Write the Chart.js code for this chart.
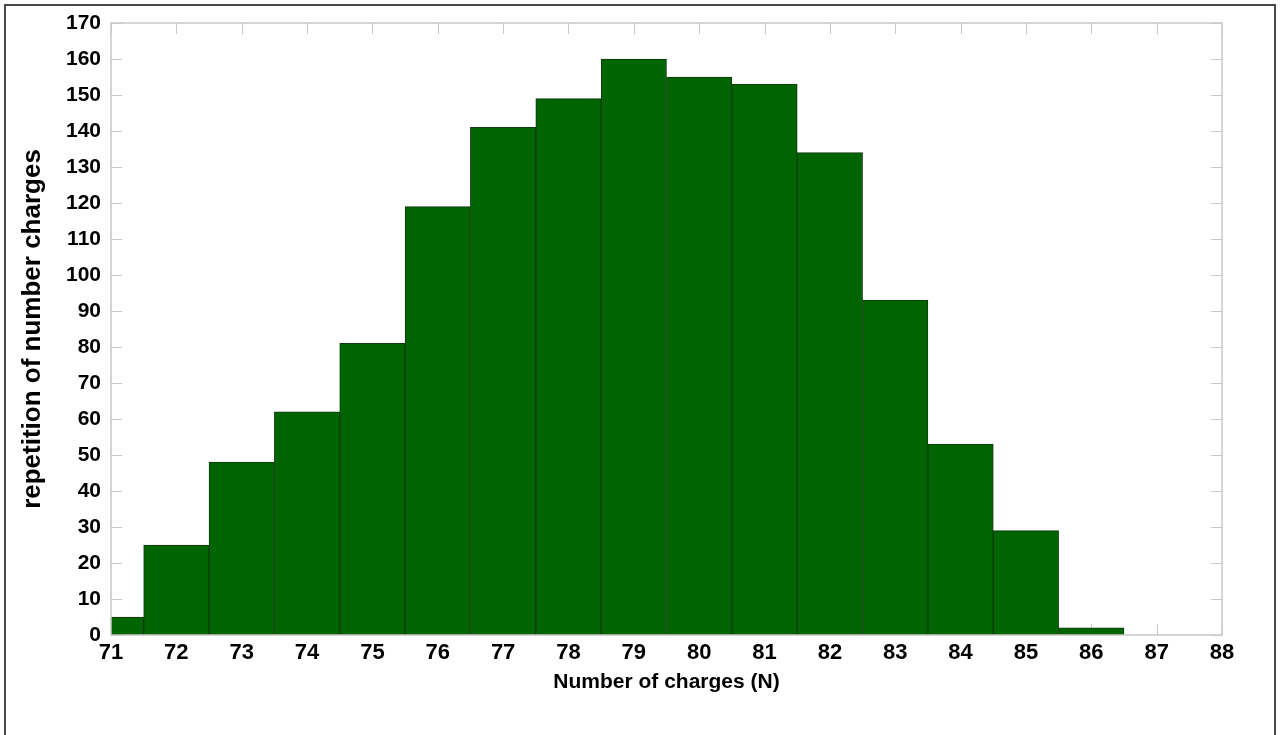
<!DOCTYPE html>
<html>
<head>
<meta charset="utf-8">
<script src="https://cdn.jsdelivr.net/npm/chart.js@4.4.1/dist/chart.umd.min.js"></script>
<style>
    html, body { margin: 0; padding: 0; background: #fff; overflow: hidden; }
    .frame {
        position: absolute; left: 4px; top: 4px; width: 1272px; height: 760px;
        border: 2px solid #4a4a4a; box-sizing: border-box;
    }
    .chart-box { position: absolute; left: 0; top: 0; width: 1280px; height: 735px; }
</style>
</head>
<body>
<div class="frame"></div>
<div class="chart-box"><canvas id="histCanvas"></canvas></div>
<script>
// histogram bins (bar centres) and how many times each came up
const chargeBins = [71, 72, 73, 74, 75, 76, 77, 78, 79, 80, 81, 82, 83, 84, 85, 86];
const repetitions = [5, 25, 48, 62, 81, 119, 141, 149, 160, 155, 153, 134, 93, 53, 29, 2];

const xMin = 71, xMax = 88;
const yMin = 0, yMax = 170, yStep = 10;

const labelFont = "'Liberation Sans Narrow', 'Liberation Sans', Arial, sans-serif";
const axisGray = '#c8c8c8';

// matlab style: ticks point inwards on all four sides, plus a box round the plot
const matlabBox = {
    id: 'matlabBox',
    beforeDatasetsDraw(chart) {
        const ctx = chart.ctx;
        const area = chart.chartArea;
        const xs = chart.scales.x, ys = chart.scales.y;
        const len = 11;
        ctx.save();
        ctx.strokeStyle = axisGray;
        ctx.lineWidth = 1;
        ctx.beginPath();
        xs.ticks.forEach(t => {
            const px = Math.round(xs.getPixelForValue(t.value)) + 0.5;
            ctx.moveTo(px, area.bottom); ctx.lineTo(px, area.bottom - len);
            ctx.moveTo(px, area.top); ctx.lineTo(px, area.top + len);
        });
        ys.ticks.forEach(t => {
            const py = Math.round(ys.getPixelForValue(t.value)) + 0.5;
            ctx.moveTo(area.left, py); ctx.lineTo(area.left + len, py);
            ctx.moveTo(area.right, py); ctx.lineTo(area.right - len, py);
        });
        ctx.stroke();
        ctx.restore();
    },
    afterDatasetsDraw(chart) {
        const ctx = chart.ctx;
        const a = chart.chartArea;
        ctx.save();
        ctx.strokeStyle = axisGray;
        ctx.lineWidth = 1.5;
        ctx.strokeRect(a.left, a.top, a.right - a.left, a.bottom - a.top);
        ctx.restore();
    }
};

const histCanvas = document.querySelector('#histCanvas');

new Chart(histCanvas.getContext('2d'), {
    type: 'bar',
    data: {
        datasets: [{
            data: chargeBins.map((b, i) => ({ x: b, y: repetitions[i] })),
            backgroundColor: '#006400',
            borderColor: '#123a12',
            borderWidth: 1,
            barPercentage: 1,
            categoryPercentage: 1,
            clip: 0
        }]
    },
    options: {
        responsive: true,
        maintainAspectRatio: false,
        animation: false,
        layout: { padding: { left: 0, top: 23, right: 58, bottom: 0 } },
        plugins: {
            legend: { display: false },
            tooltip: { enabled: false }
        },
        scales: {
            x: {
                type: 'linear',
                min: xMin,
                max: xMax,
                offset: false,
                grid: { display: false, drawTicks: false, offset: false },
                border: { display: false },
                ticks: {
                    stepSize: 1,
                    color: '#000',
                    padding: 5,
                    font: { family: labelFont, size: 22, weight: 'bold' }
                },
                title: {
                    display: true,
                    text: 'Number of charges (N)',
                    color: '#000',
                    padding: { top: 0, bottom: 40 },
                    font: { family: labelFont, size: 21, weight: 'bold' }
                },
                afterFit(scale) { scale.height = 100; }
            },
            y: {
                min: yMin,
                max: yMax,
                grid: { display: false, drawTicks: false },
                border: { display: false },
                ticks: {
                    stepSize: yStep,
                    color: '#000',
                    padding: 10,
                    font: { family: labelFont, size: 21, weight: 'bold' }
                },
                title: {
                    display: true,
                    text: 'repetition of number charges',
                    color: '#000',
                    padding: { top: 17, bottom: 0 },
                    font: { family: "'Liberation Sans', Arial, sans-serif", size: 26, weight: 'bold' }
                },
                afterFit(scale) { scale.width = 111; }
            }
        }
    },
    plugins: [matlabBox]
});
</script>
</body>
</html>
